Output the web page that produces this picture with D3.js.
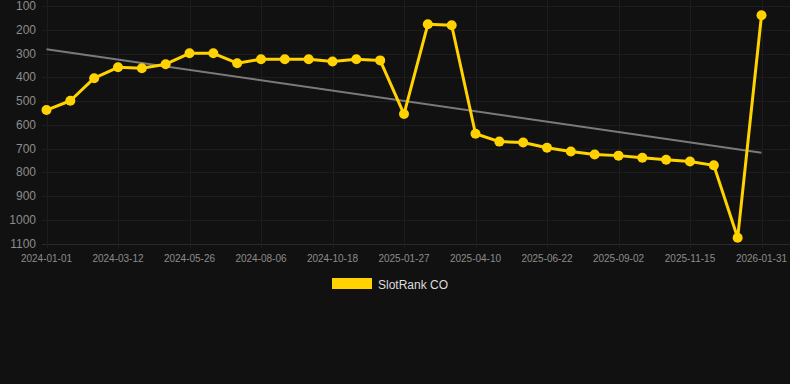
<!DOCTYPE html>
<html lang="en">

<head>
    <meta charset="UTF-8">
    <title>SlotRank CO</title>
    <script src="https://cdn.jsdelivr.net/npm/d3@7"></script>
    <style>
        html, body {
            margin: 0;
            padding: 0;
            background: #111111;
        }

        svg {
            display: block;
            font-family: Helvetica, Arial, sans-serif;
        }
    </style>
</head>

<body>
    <div id="chart"></div>

    <script>
        // dates on the category axis (only every 3rd one gets a label)
        const dates = [
            "2024-01-01", "2024-01-25", "2024-02-17", "2024-03-12", "2024-04-06", "2024-05-01",
            "2024-05-26", "2024-06-19", "2024-07-13", "2024-08-06", "2024-08-30", "2024-09-24",
            "2024-10-18", "2024-11-21", "2024-12-24", "2025-01-27", "2025-02-20", "2025-03-17",
            "2025-04-10", "2025-05-04", "2025-05-29", "2025-06-22", "2025-07-16", "2025-08-09",
            "2025-09-02", "2025-09-26", "2025-10-21", "2025-11-15", "2025-12-12", "2026-01-06",
            "2026-01-31"
        ];

        // rank values (lower = better, axis is reversed)
        const ranks = [
            538, 499, 404, 358, 362, 345, 299, 299, 341, 324, 324, 324,
            334, 324, 329, 555, 177, 181, 638, 671, 675, 697, 713, 725,
            730, 739, 747, 755, 771, 1076, 139
        ];

        // trend line, first and last value
        const trend = [282, 718];

        const yTicks = [100, 200, 300, 400, 500, 600, 700, 800, 900, 1000, 1100];
        const xTickLabels = ["2024-01-01", "2024-03-12", "2024-05-26", "2024-08-06", "2024-10-18",
            "2025-01-27", "2025-04-10", "2025-06-22", "2025-09-02", "2025-11-15", "2026-01-31"];

        const seriesName = "SlotRank CO";

        (() => {
            const width = 790;
            const height = 384;
            const gold = "#ffd200";
            const gridColor = "#1d1d1d";

            const svg = d3.select("#chart").append("svg")
                .attr("width", width)
                .attr("height", height);

            const x = d3.scalePoint()
                .domain(dates)
                .range([46.5, 761.5]);

            const y = d3.scaleLinear()
                .domain([100, 1100])
                .range([6, 243.5]);

            // horizontal grid + y labels
            const yg = svg.append("g");
            yg.selectAll("line")
                .data(yTicks)
                .join("line")
                .attr("x1", 42)
                .attr("x2", width)
                .attr("y1", d => Math.round(y(d)) + 0.5)
                .attr("y2", d => Math.round(y(d)) + 0.5)
                .attr("stroke", d => d === 1100 ? "#2a2a2a" : gridColor)
                .attr("stroke-width", 1);

            yg.selectAll("text")
                .data(yTicks)
                .join("text")
                .attr("x", 36)
                .attr("y", d => y(d))
                .attr("dy", "0.35em")
                .attr("text-anchor", "end")
                .attr("fill", "#8c8c8c")
                .attr("font-size", 12)
                .text(d => d);

            // vertical grid + x labels
            const xg = svg.append("g");
            xg.selectAll("line")
                .data(xTickLabels)
                .join("line")
                .attr("x1", d => Math.round(x(d)) + 0.5)
                .attr("x2", d => Math.round(x(d)) + 0.5)
                .attr("y1", 0)
                .attr("y2", 248)
                .attr("stroke", gridColor)
                .attr("stroke-width", 1);

            xg.selectAll("text")
                .data(xTickLabels)
                .join("text")
                .attr("x", d => x(d))
                .attr("y", 262)
                .attr("text-anchor", "middle")
                .attr("fill", "#8c8c8c")
                .attr("font-size", 10)
                .text(d => d);

            // trend line
            svg.append("line")
                .attr("x1", x(dates[0]))
                .attr("x2", x(dates[dates.length - 1]))
                .attr("y1", y(trend[0]))
                .attr("y2", y(trend[1]))
                .attr("stroke", "#7a7a7a")
                .attr("stroke-width", 2);

            const line = d3.line()
                .x((d, i) => x(dates[i]))
                .y(d => y(d));

            svg.append("path")
                .datum(ranks)
                .attr("d", line)
                .attr("fill", "none")
                .attr("stroke", gold)
                .attr("stroke-width", 3)
                .attr("stroke-linejoin", "round");

            svg.append("g")
                .selectAll("circle")
                .data(ranks)
                .join("circle")
                .attr("cx", (d, i) => x(dates[i]))
                .attr("cy", d => y(d))
                .attr("r", 5)
                .attr("fill", gold);

            // legend
            const legend = svg.append("g")
                .attr("transform", "translate(332,278)");
            legend.append("rect")
                .attr("width", 40)
                .attr("height", 11)
                .attr("fill", gold);
            legend.append("text")
                .attr("x", 46)
                .attr("y", 10.5)
                .attr("fill", "#dddddd")
                .attr("font-size", 12)
                .text(seriesName);
        })()
    </script>
</body>

</html>
